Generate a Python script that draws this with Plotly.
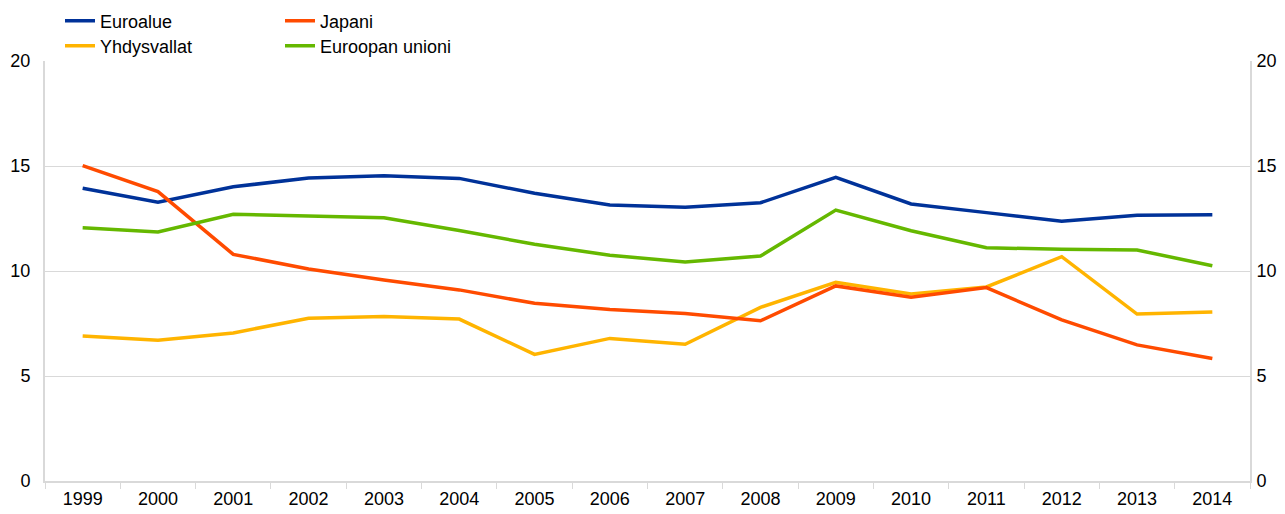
import plotly.graph_objects as go

years = [str(y) for y in range(1999, 2015)]

euroalue = [13.94, 13.27, 14.01, 14.43, 14.54, 14.41, 13.70, 13.14, 13.03, 13.25, 14.46, 13.19, 12.78, 12.37, 12.65, 12.68]
yhdysvallat = [6.90, 6.70, 7.05, 7.75, 7.83, 7.71, 6.03, 6.79, 6.51, 8.27, 9.46, 8.90, 9.24, 10.68, 7.95, 8.05]
japani = [15.02, 13.78, 10.79, 10.10, 9.57, 9.10, 8.46, 8.17, 7.98, 7.63, 9.29, 8.75, 9.21, 7.67, 6.48, 5.83]
euroopan_unioni = [12.06, 11.86, 12.70, 12.60, 12.54, 11.93, 11.27, 10.75, 10.43, 10.71, 12.90, 11.92, 11.11, 11.03, 11.00, 10.25]

y_ticks = [0, 5, 10, 15, 20]

FONT = dict(family="Liberation Sans, Arial, sans-serif", size=18, color="#000000")
GRID = "#d9d9d9"

# the page body has an 8px margin, so shift everything up/left by that much
PAGE_OFF = 8
W, H = 1285 - 2 * PAGE_OFF, 514 - PAGE_OFF

# name, values, colour, legend id, legend x (page px), legend row y (page px)
series = [
    ("Euroalue", euroalue, "#003299", "legend", 60, 21),
    ("Yhdysvallat", yhdysvallat, "#ffb400", "legend2", 60, 46),
    ("Japani", japani, "#ff4b00", "legend3", 280, 21),
    ("Euroopan unioni", euroopan_unioni, "#65b800", "legend4", 280, 46),
]

fig = go.Figure()
legends = {}
for name, vals, color, lg, lx, ly in series:
    fig.add_trace(go.Scatter(
        x=years, y=vals, mode="lines", name=name,
        line=dict(color=color, width=3.5),
        legend=lg,
    ))
    legends[lg] = dict(
        orientation="v", bgcolor="rgba(0,0,0,0)", font=FONT,
        xref="container", yref="container",
        x=(lx - PAGE_OFF) / W, y=1 - (ly - PAGE_OFF) / H,
        xanchor="left", yanchor="middle",
    )

# dummy trace so the right-hand axis is drawn
fig.add_trace(go.Scatter(x=[years[0]], y=[None], yaxis="y2", showlegend=False, hoverinfo="skip"))

axis_common = dict(
    range=[0, 20], tickvals=y_ticks, showgrid=True, gridcolor=GRID, gridwidth=1,
    zeroline=False, showline=True, linecolor=GRID, linewidth=2, ticks="",
    tickfont=FONT, fixedrange=True,
)

# plot area on the page: x 45..1250, y 61..481
left, top = 45 - PAGE_OFF, 61 - PAGE_OFF
fig.update_layout(
    width=W, height=H,
    paper_bgcolor="white", plot_bgcolor="white",
    font=FONT,
    margin=dict(l=left, r=W - left - 1205, t=top, b=H - top - 420, autoexpand=False),
    xaxis=dict(
        type="category", tickson="boundaries", ticks="outside", ticklen=6,
        tickcolor=GRID, showline=True, linecolor=GRID, linewidth=2,
        showgrid=False, tickfont=FONT, range=[-0.5, 15.5], tickangle=0,
    ),
    yaxis=dict(**axis_common, side="left", ticklabelstandoff=9),
    yaxis2=dict(**axis_common, side="right", overlaying="y", matches="y", ticklabelstandoff=1),
    showlegend=True,
    **legends,
)

fig.write_html("out.html")
